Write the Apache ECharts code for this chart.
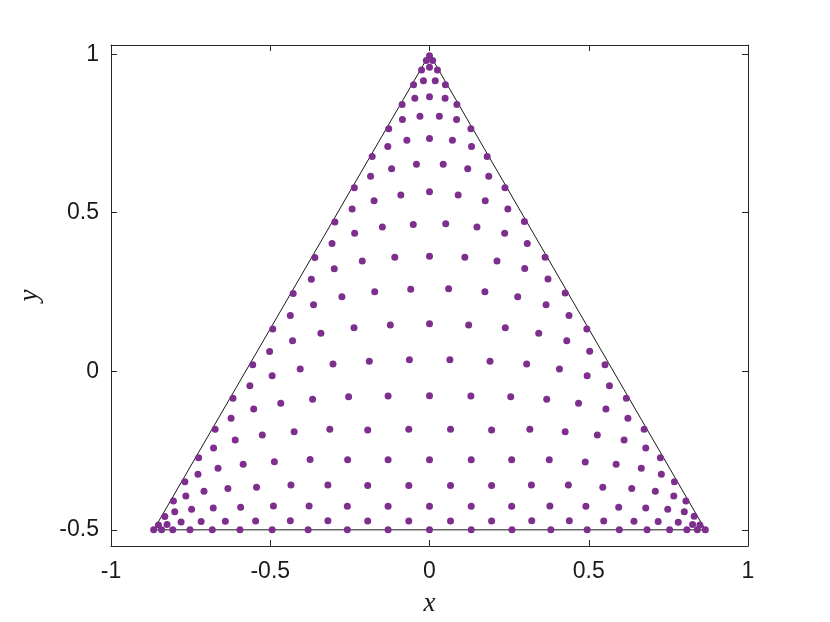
<!DOCTYPE html>
<html><head><meta charset="utf-8">
<script src="https://cdn.jsdelivr.net/npm/echarts@6/dist/echarts.min.js"></script>
<style>html,body{margin:0;padding:0;background:#fff}#c{width:830px;height:622px}</style>
</head><body><div id="c"></div>
<script>
// Tick values
const xTicks = [-1, -0.5, 0, 0.5, 1];
const yTicks = [-0.5, 0, 0.5, 1];

// Triangle outline (vertices, closed)
const triangleX = [0, 0.866, -0.866, 0];
const triangleY = [1, -0.5, -0.5, 1];

// Nodes near the apex
const apexX = [0,-0.010,0.010,-0.025,0,0.025,-0.050,-0.019,0.018,0.050,-0.086,-0.046,0,0.049,0.086,-0.085,-0.030,0.031,0.085,-0.128,0.130,-0.071,0,0.072,-0.131,0.132,-0.180,0.181,-0.119,-0.041,0.043,0.120,-0.185,0.186,-0.236,0.237,-0.174,-0.090,0,0.090,0.175,-0.243,0.246];
const apexY = [0.995,0.980,0.980,0.950,0.959,0.950,0.904,0.916,0.916,0.904,0.841,0.861,0.866,0.861,0.841,0.794,0.804,0.804,0.794,0.765,0.765,0.729,0.734,0.729,0.709,0.709,0.677,0.677,0.639,0.653,0.653,0.639,0.615,0.615,0.579,0.579,0.538,0.556,0.566,0.556,0.538,0.512,0.512];

// Middle band, left half (incl. centre column)
const midLeftX = [-0.297,-0.235,-0.148,-0.051,-0.306,-0.360,-0.211,-0.109,0,-0.299,-0.371,-0.428,-0.275,-0.172,-0.059,-0.364,-0.437,-0.492,-0.341,-0.237,-0.123,0,-0.430,-0.502,-0.555,-0.494,-0.406,-0.303,-0.189,-0.063];
const midLeftY = [0.471,0.435,0.455,0.463,0.403,0.359,0.348,0.360,0.363,0.323,0.290,0.245,0.235,0.251,0.259,0.210,0.176,0.133,0.120,0.137,0.146,0.150,0.096,0.062,0.021,-0.014,0.007,0.023,0.032,0.036];

// Middle band, right half
const midRightX = [0.051,0.149,0.236,0.298,0.307,0.111,0.212,0.299,0.363,0.372,0.426,0.060,0.174,0.277,0.366,0.438,0.494,0.123,0.238,0.343,0.431,0.503,0.551,0.064,0.190,0.305,0.408,0.495];
const midRightY = [0.465,0.455,0.435,0.472,0.403,0.360,0.348,0.324,0.360,0.291,0.247,0.260,0.251,0.235,0.210,0.176,0.133,0.146,0.137,0.120,0.096,0.063,0.021,0.036,0.032,0.023,0.007,-0.014];

// Lower band, left
const baseLeftX = [-0.564,-0.617,-0.552,-0.467,-0.367,-0.623,-0.673,-0.610,-0.525,-0.425,-0.313,-0.678,-0.725,-0.664,-0.585,-0.487,-0.375,-0.727,-0.768,-0.708,-0.633,-0.543,-0.435,-0.319,-0.765,-0.804,-0.747,-0.679,-0.593,-0.490,-0.378,-0.800,-0.831,-0.780,-0.717,-0.641,-0.546,-0.437,-0.319,-0.824,-0.851,-0.866,-0.841,-0.806,-0.752,-0.682,-0.595,-0.494,-0.381];
const baseLeftY = [-0.046,-0.085,-0.119,-0.101,-0.088,-0.148,-0.183,-0.217,-0.201,-0.191,-0.183,-0.242,-0.273,-0.306,-0.293,-0.285,-0.278,-0.325,-0.348,-0.378,-0.370,-0.366,-0.359,-0.359,-0.393,-0.409,-0.435,-0.431,-0.429,-0.425,-0.425,-0.443,-0.458,-0.475,-0.474,-0.473,-0.472,-0.471,-0.471,-0.483,-0.485,-0.5,-0.5,-0.5,-0.5,-0.5,-0.5,-0.5,-0.5];

// Lower band, centre
const baseMidX = [-0.254,-0.130,0,0.130,0.255,-0.194,-0.065,0.066,0.195,-0.257,-0.130,0,0.131,0.258,-0.194,-0.065,0.066,0.195,-0.258,-0.130,0,0.131,0.258,-0.194,-0.065,0.066,0.195,-0.258,-0.130,0,0.131,0.259];
const baseMidY = [-0.080,-0.078,-0.077,-0.078,-0.080,-0.185,-0.183,-0.183,-0.185,-0.279,-0.279,-0.279,-0.279,-0.279,-0.360,-0.360,-0.360,-0.360,-0.426,-0.426,-0.426,-0.426,-0.426,-0.472,-0.472,-0.472,-0.472,-0.5,-0.5,-0.5,-0.5,-0.5];

// Lower band, right
const baseRightX = [0.565,0.368,0.468,0.554,0.618,0.623,0.674,0.315,0.426,0.527,0.611,0.679,0.725,0.376,0.489,0.586,0.665,0.728,0.769,0.320,0.436,0.544,0.635,0.709,0.767,0.805,0.378,0.491,0.594,0.679,0.748,0.800,0.831,0.321,0.439,0.547,0.642,0.718,0.781,0.826,0.849,0.381,0.495,0.596,0.683,0.754,0.808,0.841,0.866];
const baseRightY = [-0.046,-0.088,-0.101,-0.119,-0.085,-0.148,-0.183,-0.183,-0.191,-0.201,-0.217,-0.242,-0.273,-0.279,-0.286,-0.293,-0.306,-0.325,-0.348,-0.359,-0.359,-0.366,-0.370,-0.378,-0.393,-0.409,-0.425,-0.426,-0.429,-0.431,-0.435,-0.443,-0.457,-0.471,-0.471,-0.472,-0.473,-0.474,-0.476,-0.483,-0.485,-0.5,-0.5,-0.5,-0.5,-0.5,-0.5,-0.5,-0.5];

const zip = (a, b) => a.map((v, i) => [v, b[i]]);
const nodes = [].concat(
  zip(apexX, apexY), zip(midLeftX, midLeftY), zip(midRightX, midRightY),
  zip(baseLeftX, baseLeftY), zip(baseMidX, baseMidY), zip(baseRightX, baseRightY)
);
const triangle = zip(triangleX, triangleY);

const AX = '#262626';
const labelFont = { color: '#1a1a1a', fontSize: 23, fontFamily: 'Liberation Sans, Arial, sans-serif' };
const nameFont = { color: '#1a1a1a', fontSize: 27, fontStyle: 'italic', fontFamily: 'Liberation Serif, DejaVu Serif, serif' };

const chart = echarts.init(document.getElementById('c'), null, { renderer: 'canvas' });
chart.setOption({
  animation: false,
  backgroundColor: '#ffffff',
  grid: { left: 111, right: 82, top: 45, bottom: 74, containLabel: false },
  xAxis: [
    { type: 'value', position: 'bottom', min: -1, max: 1, interval: 0.5,
      axisLine: { show: true, onZero: false, lineStyle: { color: AX, width: 1 } },
      axisTick: { show: true, inside: true, length: 6, lineStyle: { color: AX } },
      axisLabel: Object.assign({ margin: 14, showMinLabel: true, showMaxLabel: true }, labelFont),
      splitLine: { show: false },
      name: 'x', nameLocation: 'middle', nameGap: 44, nameTextStyle: nameFont },
    { type: 'value', position: 'top', min: -1, max: 1, interval: 0.5,
      axisLine: { show: true, onZero: false, lineStyle: { color: AX, width: 1 } },
      axisTick: { show: true, inside: true, length: 6, lineStyle: { color: AX } },
      axisLabel: { show: false }, splitLine: { show: false } }
  ],
  yAxis: [
    { type: 'value', position: 'left', min: -0.551, max: 1.029,
      axisLine: { show: true, onZero: false, lineStyle: { color: AX, width: 1 } },
      axisTick: { show: true, inside: true, length: 6, customValues: yTicks, lineStyle: { color: AX } },
      axisLabel: Object.assign({ margin: 12, customValues: yTicks }, labelFont),
      splitLine: { show: false },
      name: 'y', nameLocation: 'middle', nameGap: 68, nameRotate: 90, nameTextStyle: nameFont },
    { type: 'value', position: 'right', min: -0.551, max: 1.029,
      axisLine: { show: true, onZero: false, lineStyle: { color: AX, width: 1 } },
      axisTick: { show: true, inside: true, length: 6, customValues: yTicks, lineStyle: { color: AX } },
      axisLabel: { show: false }, splitLine: { show: false } }
  ],
  series: [
    { type: 'line', data: triangle, xAxisIndex: 0, yAxisIndex: 0, symbol: 'none', silent: true,
      lineStyle: { color: '#1a1a1a', width: 1 }, z: 1 },
    { type: 'scatter', data: nodes, xAxisIndex: 0, yAxisIndex: 0, symbol: 'circle', symbolSize: 7,
      itemStyle: { color: '#7E2F8E', opacity: 1 }, z: 2 }
  ]
});
</script>
</body></html>
